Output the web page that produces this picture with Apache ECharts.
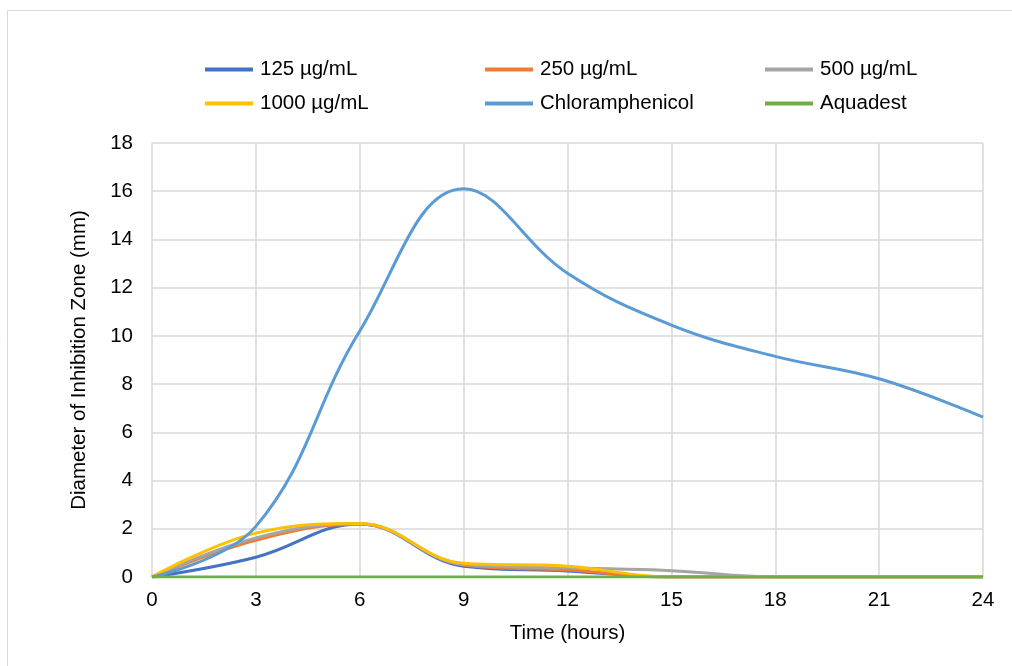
<!DOCTYPE html>
<html>
<head>
<meta charset="utf-8">
<script src="https://cdn.jsdelivr.net/npm/echarts@6/dist/echarts.min.js"></script>
<style>html,body{margin:0;padding:0;background:#fff}#c{width:1012px;height:666px}</style>
</head>
<body>
<div id="c"></div>
<script>
const hours = [0, 3, 6, 9, 12, 15, 18, 21, 24];
const seriesNames = ['125 µg/mL', '250 µg/mL', '500 µg/mL', '1000 µg/mL', 'Chloramphenicol', 'Aquadest'];
const v125 = [0, 0.82, 2.2, 0.45, 0.25, 0, 0, 0, 0];
const v250 = [0, 1.52, 2.2, 0.5, 0.29, 0, 0, 0, 0];
const v500 = [0, 1.62, 2.22, 0.52, 0.38, 0.26, 0, 0, 0];
const v1000 = [0, 1.82, 2.22, 0.57, 0.45, 0, 0, 0, 0];
const vChlor = [0, 2.1, 10.2, 16.1, 12.6, 10.45, 9.15, 8.22, 6.63];
const vAqua = [0, 0, 0, 0, 0, 0, 0, 0, 0];
const colors = ['#4472C4', '#ED7D31', '#A5A5A5', '#FFC000', '#5B9BD5', '#70AD47'];
const allValues = [v125, v250, v500, v1000, vChlor, vAqua];

const legendPos = [[200, 54], [480, 54], [760, 54], [200, 88], [480, 88], [760, 88]];

const chart = echarts.init(document.getElementById('c'));
const font = 'Liberation Sans, Arial, sans-serif';
const fs = 20.5;
chart.setOption({
  animation: false,
  color: colors,
  textStyle: { fontFamily: font },
  graphic: [{
    type: 'rect', shape: { x: 7.5, y: 10.5, width: 1100, height: 700 },
    style: { fill: 'none', stroke: '#d9d9d9', lineWidth: 1 }, z: -1
  }],
  legend: seriesNames.map((n, i) => ({
    data: [n], left: legendPos[i][0], top: legendPos[i][1],
    icon: 'rect', itemWidth: 48, itemHeight: 4, itemGap: 0,
    textStyle: { fontSize: fs, color: '#000', fontFamily: font, padding: [0, 0, 0, 2] },
    selectedMode: false
  })),
  grid: { left: 152, right: 29, top: 143, bottom: 89, containLabel: false },
  xAxis: {
    type: 'value', min: 0, max: 24, interval: 3,
    name: 'Time (hours)', nameLocation: 'middle', nameGap: 46,
    nameTextStyle: { fontSize: fs, color: '#000', fontFamily: font },
    axisLine: { show: true, lineStyle: { color: '#d9d9d9' } },
    axisTick: { show: false },
    axisLabel: { fontSize: fs, color: '#000', margin: 13, fontFamily: font },
    splitLine: { show: true, lineStyle: { color: '#d9d9d9', width: 1.5 } }
  },
  yAxis: {
    type: 'value', min: 0, max: 18, interval: 2,
    name: 'Diameter of Inhibition Zone (mm)', nameLocation: 'middle', nameGap: 62, nameRotate: 90,
    nameTextStyle: { fontSize: fs, color: '#000', fontFamily: font },
    axisLine: { show: false },
    axisTick: { show: false },
    axisLabel: { fontSize: fs, color: '#000', margin: 19, fontFamily: font },
    splitLine: { show: true, lineStyle: { color: '#d9d9d9', width: 1.5 } }
  },
  series: seriesNames.map((n, i) => ({
    name: n, type: 'line', smooth: 0.4, showSymbol: false, symbol: 'none',
    data: hours.map((h, j) => [h, allValues[i][j]]),
    lineStyle: { width: 3, color: colors[i] },
    itemStyle: { color: colors[i] },
    z: i === 5 ? 10 : 2 + i
  }))
});
</script>
</body>
</html>
